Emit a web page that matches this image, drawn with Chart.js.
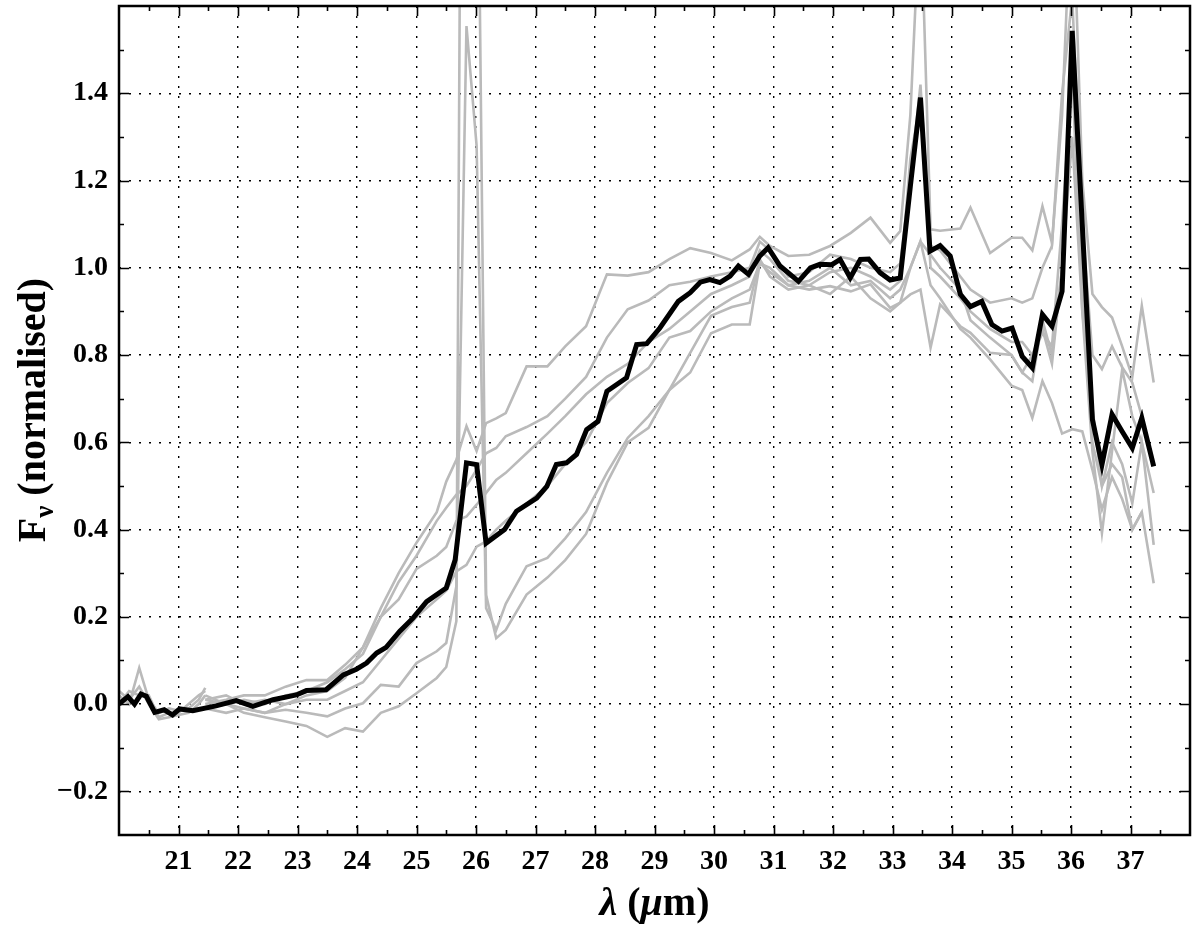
<!DOCTYPE html>
<html><head><meta charset="utf-8">
<script src="https://cdn.jsdelivr.net/npm/chart.js@4/dist/chart.umd.min.js"></script>
<style>html,body{margin:0;padding:0;background:#fff}</style>
</head><body>
<canvas id="c" width="1200" height="929"></canvas>
<script>
// ---- data ----
const blackX = [20.0,20.15,20.26,20.37,20.46,20.6,20.76,20.9,21.02,21.24,21.63,21.97,22.25,22.59,22.98,23.15,23.48,23.77,23.99,24.16,24.33,24.49,24.72,24.94,25.17,25.5,25.65,25.84,26.01,26.17,26.48,26.68,27.02,27.19,27.35,27.52,27.69,27.86,28.05,28.2,28.53,28.70,28.87,29.09,29.40,29.6,29.77,29.93,30.1,30.27,30.41,30.58,30.77,30.91,31.11,31.42,31.62,31.78,31.98,32.12,32.29,32.46,32.60,32.79,32.96,33.13,33.30,33.47,33.63,33.80,33.97,34.14,34.31,34.50,34.67,34.84,35.01,35.18,35.35,35.52,35.68,35.85,36.02,36.36,36.52,36.69,36.86,37.03,37.19,37.39];
const blackY = [0.0,0.017,0.0,0.023,0.018,-0.019,-0.013,-0.025,-0.011,-0.015,-0.004,0.008,-0.005,0.01,0.021,0.031,0.033,0.067,0.08,0.094,0.117,0.13,0.167,0.197,0.235,0.266,0.331,0.553,0.549,0.369,0.40,0.442,0.472,0.499,0.549,0.553,0.572,0.629,0.648,0.717,0.748,0.824,0.826,0.862,0.923,0.943,0.967,0.973,0.966,0.981,1.004,0.985,1.027,1.046,1.004,0.969,1.0,1.008,1.007,1.019,0.977,1.019,1.02,0.989,0.972,0.977,1.187,1.39,1.038,1.051,1.027,0.939,0.911,0.923,0.87,0.855,0.862,0.797,0.771,0.893,0.866,0.946,1.543,0.652,0.549,0.664,0.625,0.587,0.656,0.545];

const greyX = [21.45,21.8,22.1,22.45,22.8,23.15,23.5,23.8,24.1,24.4,24.7,25.0,25.34,25.5,25.67,25.84,26.01,26.17,26.34,26.5,26.85,27.2,27.5,27.85,28.2,28.55,28.9,29.25,29.6,29.95,30.3,30.6,30.77,30.94,31.25,31.6,31.95,32.3,32.63,32.96,33.13,33.3,33.47,33.64,33.8,34.14,34.31,34.64,35.0,35.18,35.35,35.52,35.68,35.85,36.02,36.19,36.36,36.52,36.69,36.86,37.03,37.19,37.39];
const greyA = [-0.01,0.0,-0.02,-0.03,-0.04,-0.05,-0.075,-0.055,-0.063,-0.02,-0.005,0.025,0.06,0.085,0.19,4.5,null,0.25,0.151,0.17,0.251,0.29,0.33,0.39,0.507,0.60,0.633,0.72,0.76,0.85,0.87,0.87,1.011,0.99,0.96,0.95,0.958,0.946,0.962,0.908,0.92,0.939,0.95,0.817,0.916,0.866,0.851,0.805,0.80,0.76,0.80,0.86,0.78,1.0,1.3,0.9,0.58,0.392,0.58,0.767,0.66,0.60,0.484];
const greyB = [0.01,0.0,-0.01,-0.02,-0.013,-0.02,-0.028,-0.01,0.002,0.044,0.04,0.094,0.121,0.14,0.27,1.554,1.28,0.22,0.17,0.23,0.316,0.335,0.38,0.44,0.53,0.61,0.66,0.72,0.805,0.89,0.91,0.92,1.019,0.98,0.95,0.96,0.94,0.98,0.93,0.90,0.92,1.0,1.061,0.96,0.93,0.86,0.84,0.79,0.73,0.72,0.656,0.74,0.69,0.62,0.63,0.625,0.537,0.446,0.52,0.47,0.40,0.44,0.277];
const greyC = [0.0,0.01,0.02,0.02,0.04,0.055,0.055,0.09,0.13,0.22,0.30,0.37,0.44,0.51,0.56,0.637,0.58,0.644,0.655,0.667,0.774,0.774,0.82,0.866,0.985,0.982,0.99,1.02,1.045,1.034,1.017,1.042,1.071,1.05,1.027,1.03,1.05,1.08,1.115,1.057,1.084,1.35,1.85,1.088,1.085,1.09,1.138,1.034,1.069,1.069,1.04,1.141,1.057,1.35,1.9,1.2,0.94,0.91,0.886,0.82,0.75,0.913,0.737];
const greyD = [0.02,0.0,0.01,0.0,0.02,0.03,0.05,0.08,0.115,0.20,0.28,0.34,0.42,0.45,0.48,0.50,0.537,0.575,0.587,0.614,0.635,0.66,0.70,0.75,0.84,0.905,0.925,0.96,0.968,0.98,0.99,1.0,1.06,1.04,0.98,0.99,1.03,1.02,1.0,0.99,1.01,1.2,1.42,1.05,1.04,0.98,0.95,0.92,0.93,0.92,0.93,1.0,1.05,1.4,1.62,1.1,0.80,0.768,0.82,0.772,0.737,0.66,null];
const greyE = [0.01,0.02,0.0,0.01,0.0,0.02,0.03,0.06,0.13,0.20,0.24,0.31,0.34,0.36,0.42,0.43,0.457,0.484,0.514,0.53,0.575,0.62,0.66,0.71,0.75,0.78,0.83,0.86,0.90,0.94,0.96,0.98,1.04,1.02,0.97,0.96,0.99,1.0,0.98,0.95,0.97,1.25,1.38,1.0,0.98,0.93,0.90,0.86,0.83,0.83,0.80,0.85,0.82,1.1,1.45,0.9,0.68,0.50,0.60,0.55,0.46,0.60,0.365];
const greyF = [-0.01,-0.02,-0.01,-0.02,0.0,0.01,0.01,0.03,0.05,0.10,0.15,0.20,0.24,0.26,0.304,0.319,0.361,0.373,0.40,0.42,0.46,0.50,0.55,0.60,0.69,0.736,0.77,0.84,0.855,0.90,0.93,0.95,1.01,1.0,0.96,0.97,1.0,0.96,0.97,0.93,0.95,1.0,1.06,1.03,1.0,0.95,0.88,0.84,0.80,0.76,0.74,0.88,0.80,1.0,1.5,0.95,0.60,0.50,0.55,0.52,0.40,0.44,null];

const shortX  = [20.0,20.17,20.34,20.5,20.67,20.84,21.0,21.17,21.34,21.45];
const shortS1 = [0.02,0.0,0.083,0.01,-0.02,-0.01,-0.015,-0.01,0.01,0.037];
const shortS2 = [0.0,0.03,0.02,0.02,-0.03,-0.02,-0.02,0.0,0.02,0.03];
const shortS3 = [0.03,0.01,0.04,0.0,-0.035,-0.03,-0.025,-0.02,0.0,0.02];

const xTicks = [21,22,23,24,25,26,27,28,29,30,31,32,33,34,35,36,37];
const xTickLabels = ['21','22','23','24','25','26','27','28','29','30','31','32','33','34','35','36','37'];
const xMinor = [20.5,21.5,22.5,23.5,24.5,25.5,26.5,27.5,28.5,29.5,30.5,31.5,32.5,33.5,34.5,35.5,36.5,37.5];
const yTicks = [-0.2,0.0,0.2,0.4,0.6,0.8,1.0,1.2,1.4];
const yTickLabels = ['\u22120.2','0.0','0.2','0.4','0.6','0.8','1.0','1.2','1.4'];
const yMinor = [-0.1,0.1,0.3,0.5,0.7,0.9,1.1,1.3,1.5];

// ---- build datasets ----
const pts = (xs, ys) => xs.map((x, i) => ({x: x, y: ys[i]})).filter(p => p.y !== null);
const GREY = '#bababa';
const greyDs = (xs, ys) => ({data: pts(xs, ys), borderColor: GREY, borderWidth: 2.6, pointRadius: 0, tension: 0, fill: false});
const datasets = [
  {data: pts(blackX, blackY), borderColor: '#000', borderWidth: 5, pointRadius: 0, tension: 0, fill: false, borderJoinStyle: 'miter'},
  greyDs(greyX, greyA), greyDs(greyX, greyB), greyDs(greyX, greyC),
  greyDs(greyX, greyD), greyDs(greyX, greyE), greyDs(greyX, greyF),
  greyDs(shortX, shortS1), greyDs(shortX, shortS2), greyDs(shortX, shortS3)
];

const FONT = "'Liberation Serif', 'Times New Roman', serif";

const framePlugin = {
  id: 'frame',
  afterDraw(chart) {
    const {ctx, chartArea: a, scales: {x, y}} = chart;
    ctx.save();
    ctx.strokeStyle = '#000';
    ctx.lineWidth = 1.6;
    ctx.setLineDash([]);
    ctx.beginPath();
    const vt = (vals, len) => vals.forEach(v => {
      const p = Math.round(x.getPixelForValue(v)) + 0.5;
      ctx.moveTo(p, a.bottom); ctx.lineTo(p, a.bottom - len);
      ctx.moveTo(p, a.top); ctx.lineTo(p, a.top + len);
    });
    const ht = (vals, len) => vals.forEach(v => {
      const p = Math.round(y.getPixelForValue(v)) + 0.5;
      ctx.moveTo(a.left, p); ctx.lineTo(a.left + len, p);
      ctx.moveTo(a.right, p); ctx.lineTo(a.right - len, p);
    });
    vt(xTicks, 10); vt(xMinor, 5); ht(yTicks, 10); ht(yMinor, 5);
    ctx.stroke();
    ctx.lineWidth = 2.5;
    ctx.strokeRect(a.left, a.top, a.right - a.left, a.bottom - a.top);

    // x axis title: λ (μm)
    ctx.fillStyle = '#000';
    ctx.textBaseline = 'alphabetic';
    ctx.textAlign = 'left';
    const xs = 40;
    const xparts = [
      {t: '\u03bb', f: 'italic bold ' + xs + 'px ' + FONT},
      {t: ' (', f: 'bold ' + xs + 'px ' + FONT},
      {t: '\u03bc', f: 'italic bold ' + xs + 'px ' + FONT},
      {t: 'm)', f: 'bold ' + xs + 'px ' + FONT}
    ];
    let w = 0;
    xparts.forEach(p => { ctx.font = p.f; p.w = ctx.measureText(p.t).width; w += p.w; });
    let cx = (a.left + a.right) / 2 - w / 2;
    xparts.forEach(p => { ctx.font = p.f; ctx.fillText(p.t, cx, 915); cx += p.w; });

    // y axis title: F_ν (normalised)
    ctx.translate(45, 410);
    ctx.rotate(-Math.PI / 2);
    const ys = 40;
    const yparts = [
      {t: 'F', f: 'bold ' + ys + 'px ' + FONT, dy: 0},
      {t: '\u03bd', f: 'bold 27px ' + FONT, dy: 8},
      {t: ' (normalised)', f: 'bold ' + ys + 'px ' + FONT, dy: 0}
    ];
    w = 0;
    yparts.forEach(p => { ctx.font = p.f; p.w = ctx.measureText(p.t).width; w += p.w; });
    cx = -w / 2;
    yparts.forEach(p => { ctx.font = p.f; ctx.fillText(p.t, cx, p.dy); cx += p.w; });
    ctx.restore();
  }
};

new Chart(document.getElementById('c'), {
  type: 'line',
  data: {datasets: datasets},
  options: {
    responsive: false,
    animation: false,
    devicePixelRatio: 1,
    layout: {padding: {top: 6, right: 10, left: 0, bottom: 0}},
    plugins: {legend: {display: false}, tooltip: {enabled: false}, title: {display: false}},
    scales: {
      x: {
        type: 'linear', min: 20, max: 38,
        afterBuildTicks: s => { s.ticks = xTicks.map(v => ({value: v})); },
        afterFit: s => { s.height = 94; s.paddingLeft = 0; s.paddingRight = 0; },
        ticks: {
          callback: (v, i) => xTickLabels[i],
          font: {family: FONT, size: 28, weight: 'bold'},
          color: '#000', padding: 10, maxRotation: 0, autoSkip: false
        },
        grid: {color: '#000', lineWidth: 1.4, drawTicks: false},
        border: {display: false, dash: [2, 8]}
      },
      y: {
        type: 'linear', min: -0.3, max: 1.6,
        afterBuildTicks: s => { s.ticks = yTicks.map(v => ({value: v})); },
        afterFit: s => { s.width = 119; s.paddingTop = 0; s.paddingBottom = 0; },
        ticks: {
          callback: (v, i) => yTickLabels[i],
          font: {family: FONT, size: 28, weight: 'bold'},
          color: '#000', padding: 11, autoSkip: false
        },
        grid: {color: '#000', lineWidth: 1.4, drawTicks: false},
        border: {display: false, dash: [2, 8]}
      }
    }
  },
  plugins: [framePlugin]
});
</script>
</body></html>
